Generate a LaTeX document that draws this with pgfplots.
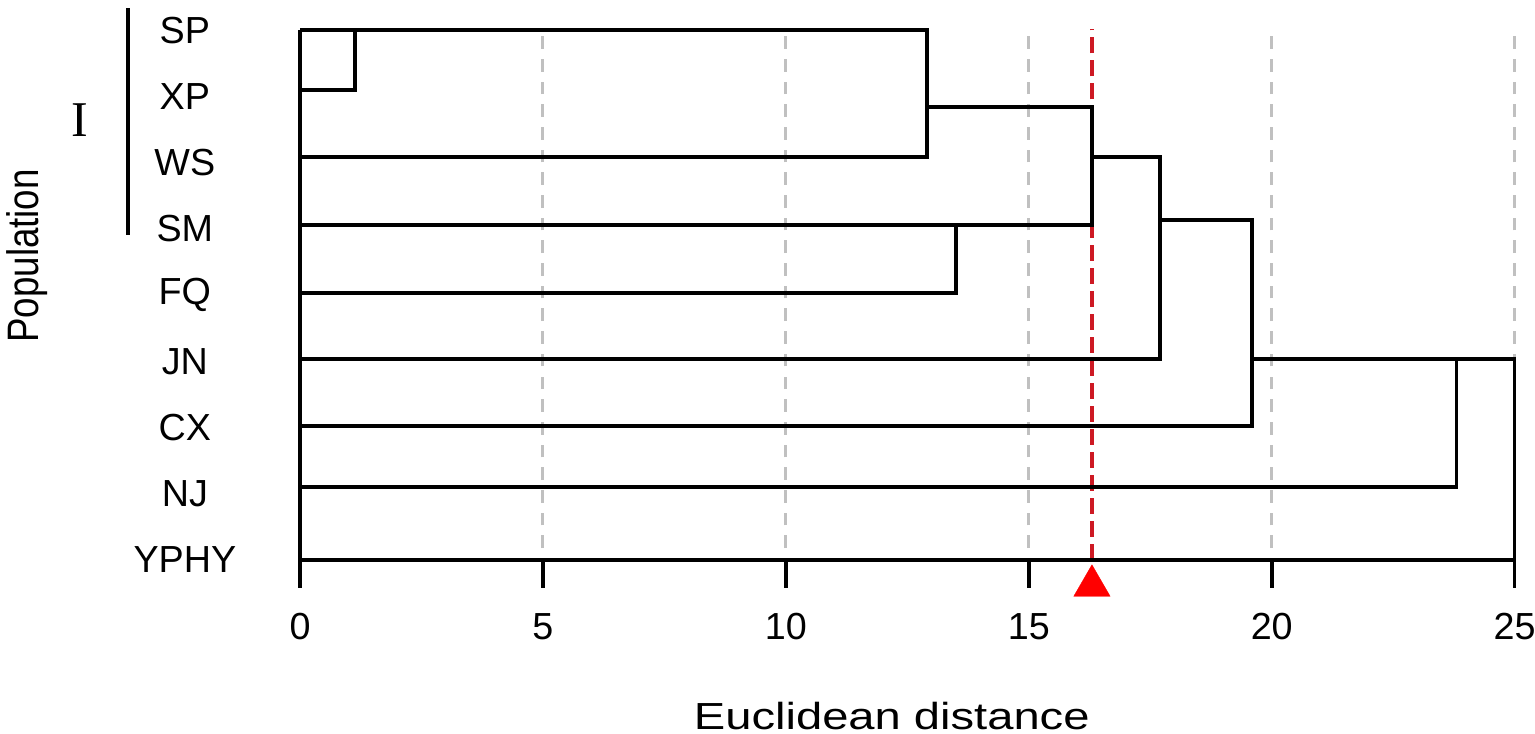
\documentclass[border=0pt]{standalone}
\usepackage{fontspec}
\setmainfont{Liberation Sans}
\newfontfamily\seriffont{Liberation Serif}
\usepackage{pgfplots}
\pgfplotsset{compat=1.18}
\definecolor{gridgray}{RGB}{192,192,192}
\definecolor{cutred}{RGB}{205,25,35}
\begin{document}
\begin{tikzpicture}
\begin{axis}[
  x=14.56pt, y=19.85pt,
  xmin=0, xmax=25, ymin=0, ymax=8,
  axis lines*=left,
  y axis line style={draw=none},
  x axis line style={line width=1.1pt, black},
  xtick={0,5,...,25},
  ytick={0,...,8},
  yticklabels={YPHY,NJ,CX,JN,FQ,SM,WS,XP,SP},
  tick align=outside,
  major tick length=8.4pt,
  xtick style={line width=1.1pt, black},
  ytick style={draw=none},
  tick label style={font=\fontsize{11.3}{13.5}\selectfont},
  /pgf/number format/assume math mode=true,
  xticklabel style={yshift=-4pt},
  yticklabel style={anchor=center, xshift=-26.1pt},
  clip=false,
  xlabel={\scalebox{1.25}[1]{Euclidean distance}},
  ylabel={\scalebox{1}[1.2]{Population}},
  every axis x label/.style={at={(axis cs:12.18,-2.36)}, anchor=center, font=\fontsize{11.3}{13.5}\selectfont},
  every axis y label/.style={at={(axis cs:-5.62,4.59)}, anchor=center, rotate=90, font=\fontsize{11}{13}\selectfont},
]
% grid lines
\addplot[gridgray, line width=0.9pt, dash pattern=on 3.8pt off 3pt] coordinates {(5,0.18) (5,7.97)};
\addplot[gridgray, line width=0.9pt, dash pattern=on 3.8pt off 3pt] coordinates {(10,0.18) (10,7.97)};
\addplot[gridgray, line width=0.9pt, dash pattern=on 3.8pt off 3pt] coordinates {(15,0.18) (15,7.97)};
\addplot[gridgray, line width=0.9pt, dash pattern=on 3.8pt off 3pt] coordinates {(20,0.18) (20,7.97)};
\addplot[gridgray, line width=0.9pt, dash pattern=on 3.8pt off 3pt] coordinates {(25,0.18) (25,7.97)};
% cut line
\addplot[cutred, line width=1pt, dash pattern=on 4.8pt off 2.1pt] coordinates {(16.3,0) (16.3,8.02)};
% dendrogram
\addplot[black, line width=1.1pt] coordinates {(0,7.09) (1.13,7.09) (1.13,8.0)};
\addplot[black, line width=1.1pt] coordinates {(0,8.0) (12.9,8.0) (12.9,6.08) (0,6.08)};
\addplot[black, line width=1.1pt] coordinates {(12.9,6.84) (16.3,6.84) (16.3,5.06) (0,5.06)};
\addplot[black, line width=1.1pt] coordinates {(0,4.03) (13.5,4.03) (13.5,5.06)};
\addplot[black, line width=1.1pt] coordinates {(16.3,6.08) (17.7,6.08) (17.7,3.03) (0,3.03)};
\addplot[black, line width=1.1pt] coordinates {(17.7,5.13) (19.6,5.13) (19.6,2.02) (0,2.02)};
\addplot[black, line width=1.1pt] coordinates {(19.6,3.03) (25,3.03) (25,0) (0,0) (0,8.0)};
\addplot[black, line width=1.1pt] coordinates {(0,1.10) (23.8,1.10) (23.8,3.03)};
% cut marker
\addplot[only marks, mark=triangle*, mark size=6.3pt, mark options={draw=red, fill=red, line width=0.1pt}] coordinates {(16.3,-0.39)};
% group bracket
\addplot[black, line width=1.1pt] coordinates {(-3.54,8.33) (-3.54,4.91)};
\node[anchor=center, font=\seriffont\fontsize{15}{18}\selectfont] at (axis cs:-4.53,6.64) {I};
\end{axis}
\pgfresetboundingbox
\path[use as bounding box] (-89.9pt,-52.1pt) rectangle (370.1pt,167.8pt);
\end{tikzpicture}
\end{document}
